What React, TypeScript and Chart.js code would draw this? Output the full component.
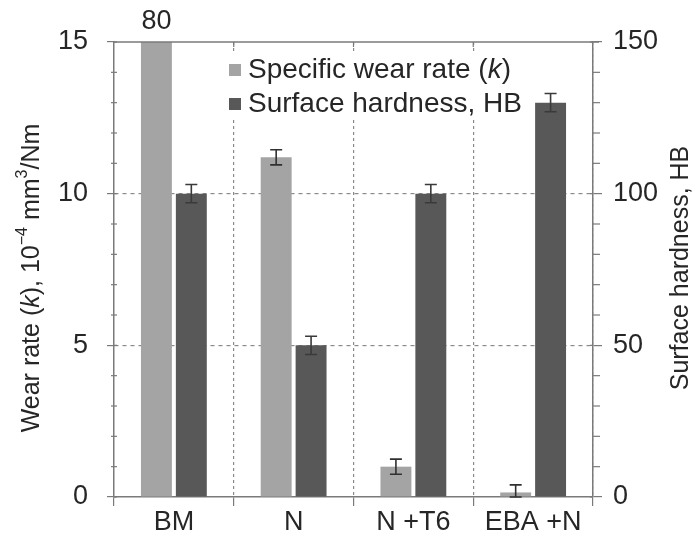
import React, { useEffect, useRef } from "react";
import { Chart, registerables } from "chart.js";

Chart.register(...registerables);

const categories = ["BM", "N", "N +T6", "EBA +N"];
const wearRate = [80, 11.2, 1.0, 0.15];
const wearErr = [0, 0.25, 0.25, 0.25];
const hardness = [100, 50, 100, 130];
const hardnessErr = [3, 3, 3, 3];
const wearTickValues = [0, 5, 10, 15];
const hardTickValues = [0, 50, 100, 150];
const wearMinorStep = 1;
const hardMinorStep = 10;
const overflowLabels = ["80", "", "", ""];
const legendLabels = ["Specific wear rate (k)", "Surface hardness, HB"];

const FONT = "'Liberation Sans', Arial, sans-serif";
const TEXT = "#262626";
const AXIS = "#7a7a7a";
const LIGHT = "#a4a4a4";
const DARK = "#585858";

function drawPieces(ctx: CanvasRenderingContext2D, pieces: { t: string; italic?: boolean; sup?: boolean }[], x: number, y: number, size: number) {
  const supSize = Math.round(size * 0.62);
  const fontFor = (p: any) => `${p.italic ? "italic " : ""}${p.sup ? supSize : size}px ${FONT}`;
  let total = 0;
  for (const p of pieces) { ctx.font = fontFor(p); total += ctx.measureText(p.t).width; }
  let cx = x - total / 2;
  ctx.textAlign = "left";
  ctx.textBaseline = "middle";
  for (const p of pieces) {
    ctx.font = fontFor(p);
    ctx.fillText(p.t, cx, p.sup ? y - size * 0.38 : y);
    cx += ctx.measureText(p.t).width;
  }
}

const extrasPlugin = {
  id: "extras",
  afterDatasetsDraw(chart: any) {
    const ctx = chart.ctx as CanvasRenderingContext2D;
    const sets = [
      { idx: 0, vals: wearRate, errs: wearErr, scale: chart.scales.y, color: "#303030" },
      { idx: 1, vals: hardness, errs: hardnessErr, scale: chart.scales.y1, color: "#3a3a3a" },
    ];
    ctx.save();
    ctx.lineWidth = 1.6;
    for (const s of sets) {
      const meta = chart.getDatasetMeta(s.idx);
      meta.data.forEach((bar: any, j: number) => {
        const e = s.errs[j];
        if (!e) return;
        const x = bar.x;
        const yTop = s.scale.getPixelForValue(s.vals[j] + e);
        const yBot = s.scale.getPixelForValue(Math.max(0, s.vals[j] - e));
        ctx.strokeStyle = s.color;
        ctx.beginPath();
        ctx.moveTo(x, yTop); ctx.lineTo(x, yBot);
        ctx.moveTo(x - 6, yTop); ctx.lineTo(x + 6, yTop);
        ctx.moveTo(x - 6, yBot); ctx.lineTo(x + 6, yBot);
        ctx.stroke();
      });
    }
    ctx.restore();
  },
  afterDraw(chart: any) {
    const ctx = chart.ctx as CanvasRenderingContext2D;
    const { left, right, top } = chart.chartArea;
    const y = chart.scales.y;
    const y1 = chart.scales.y1;
    const x = chart.scales.x;
    ctx.save();
    ctx.strokeStyle = AXIS;
    ctx.lineWidth = 1.5;
    ctx.beginPath();
    ctx.moveTo(left, top); ctx.lineTo(right + 6, top);
    ctx.stroke();
    ctx.lineWidth = 1.2;
    for (let j = 1; j < categories.length; j++) {
      const bx = (x.getPixelForValue(j - 1) + x.getPixelForValue(j)) / 2;
      ctx.beginPath(); ctx.moveTo(bx, top); ctx.lineTo(bx, top + 5); ctx.stroke();
    }
    for (let v = 0; v <= 15; v += wearMinorStep) {
      const py = y.getPixelForValue(v);
      ctx.beginPath();
      if (wearTickValues.includes(v)) { ctx.moveTo(left, py); ctx.lineTo(left + 3, py); }
      else { ctx.moveTo(left - 3, py); ctx.lineTo(left + 3, py); }
      ctx.stroke();
    }
    for (let v = 0; v <= 150; v += hardMinorStep) {
      const py = y1.getPixelForValue(v);
      ctx.beginPath();
      if (hardTickValues.includes(v)) { ctx.moveTo(right - 3, py); ctx.lineTo(right, py); }
      else { ctx.moveTo(right, py); ctx.lineTo(right + 7, py); }
      ctx.stroke();
    }
    ctx.fillStyle = TEXT;
    ctx.font = `27px ${FONT}`;
    ctx.textAlign = "center";
    ctx.textBaseline = "bottom";
    const meta0 = chart.getDatasetMeta(0);
    meta0.data.forEach((bar: any, j: number) => {
      if (overflowLabels[j]) ctx.fillText(overflowLabels[j], bar.x, top - 7);
    });
    // legend
    ctx.fillStyle = "#ffffff";
    ctx.fillRect(224, 52, 304, 66);
    const colors = [LIGHT, DARK];
    const rows = [70, 104];
    for (let i = 0; i < 2; i++) {
      ctx.fillStyle = colors[i];
      ctx.fillRect(229, rows[i] - 6, 12, 12);
    }
    ctx.fillStyle = TEXT;
    ctx.textAlign = "left";
    ctx.textBaseline = "middle";
    const l0 = legendLabels[0];
    const kPos = l0.indexOf("(k)");
    let lx = 248;
    const LF = 28;
    ctx.font = `${LF}px ${FONT}`;
    const a = l0.slice(0, kPos + 1);
    ctx.fillText(a, lx, rows[0]); lx += ctx.measureText(a).width;
    ctx.font = `italic ${LF}px ${FONT}`;
    ctx.fillText("k", lx, rows[0]); lx += ctx.measureText("k").width;
    ctx.font = `${LF}px ${FONT}`;
    ctx.fillText(")", lx, rows[0]);
    ctx.fillText(legendLabels[1], 248, rows[1]);
    // axis titles
    ctx.save();
    ctx.translate(32, 278);
    ctx.rotate(-Math.PI / 2);
    drawPieces(ctx, [
      { t: "Wear rate (" }, { t: "k", italic: true }, { t: "), 10" }, { t: "\u22124", sup: true },
      { t: " mm" }, { t: "3", sup: true }, { t: "/Nm" },
    ], 0, 0, 25);
    ctx.restore();
    ctx.save();
    ctx.translate(681, 268);
    ctx.rotate(-Math.PI / 2);
    drawPieces(ctx, [{ t: "Surface hardness, HB" }], 0, 0, 25);
    ctx.restore();
    ctx.restore();
  },
};

export default function App() {
  const ref = useRef<HTMLCanvasElement | null>(null);
  useEffect(() => {
    document.body.style.margin = "0";
    const canvas = ref.current!;
    const chart = new Chart(canvas, {
      type: "bar",
      data: {
        labels: categories,
        datasets: [
          { label: legendLabels[0], data: wearRate, backgroundColor: LIGHT, yAxisID: "y", categoryPercentage: 0.583, barPercentage: 0.886 },
          { label: legendLabels[1], data: hardness, backgroundColor: DARK, yAxisID: "y1", categoryPercentage: 0.583, barPercentage: 0.886 },
        ],
      },
      options: {
        responsive: false,
        animation: false,
        layout: { padding: { top: 42, left: 0, right: 0, bottom: 0 } },
        plugins: { legend: { display: false }, tooltip: { enabled: false } },
        scales: {
          x: {
            offset: true,
            grid: {
              offset: true,
              color: (c: any) => (c.index === 0 || c.index === categories.length ? "rgba(0,0,0,0)" : "#8a8a8a"),
              lineWidth: 1.2,
              tickColor: AXIS,
              tickLength: 9,
              tickBorderDash: [],
            },
            border: { display: true, color: AXIS, width: 1.5, dash: [3, 3] },
            ticks: { font: { family: FONT, size: 27 }, color: TEXT, padding: 0 },
            afterFit: (s: any) => { s.height = 40; },
          },
          y: {
            position: "left",
            min: 0,
            max: 15,
            afterBuildTicks: (s: any) => { s.ticks = wearTickValues.map((v) => ({ value: v })); },
            ticks: { font: { family: FONT, size: 27 }, color: TEXT, padding: 19 },
            grid: {
              color: (c: any) => (c.tick && (c.tick.value === 5 || c.tick.value === 10) ? "#8a8a8a" : "rgba(0,0,0,0)"),
              lineWidth: 1.2,
              tickColor: AXIS,
              tickLength: 7,
              tickBorderDash: [],
            },
            border: { display: true, color: AXIS, width: 1.5, dash: [4, 4] },
            afterFit: (s: any) => { s.width = 114; },
          },
          y1: {
            position: "right",
            min: 0,
            max: 150,
            afterBuildTicks: (s: any) => { s.ticks = hardTickValues.map((v) => ({ value: v })); },
            ticks: { font: { family: FONT, size: 27 }, color: TEXT, padding: 11 },
            grid: { drawOnChartArea: false, tickColor: AXIS, tickLength: 9, lineWidth: 1.2 },
            border: { display: true, color: AXIS, width: 1.5 },
            afterFit: (s: any) => { s.width = 107; },
          },
        },
      },
      plugins: [extrasPlugin],
    } as any);
    return () => chart.destroy();
  }, []);
  return <canvas ref={ref} width={700} height={537} style={{ display: "block" }} />;
}
